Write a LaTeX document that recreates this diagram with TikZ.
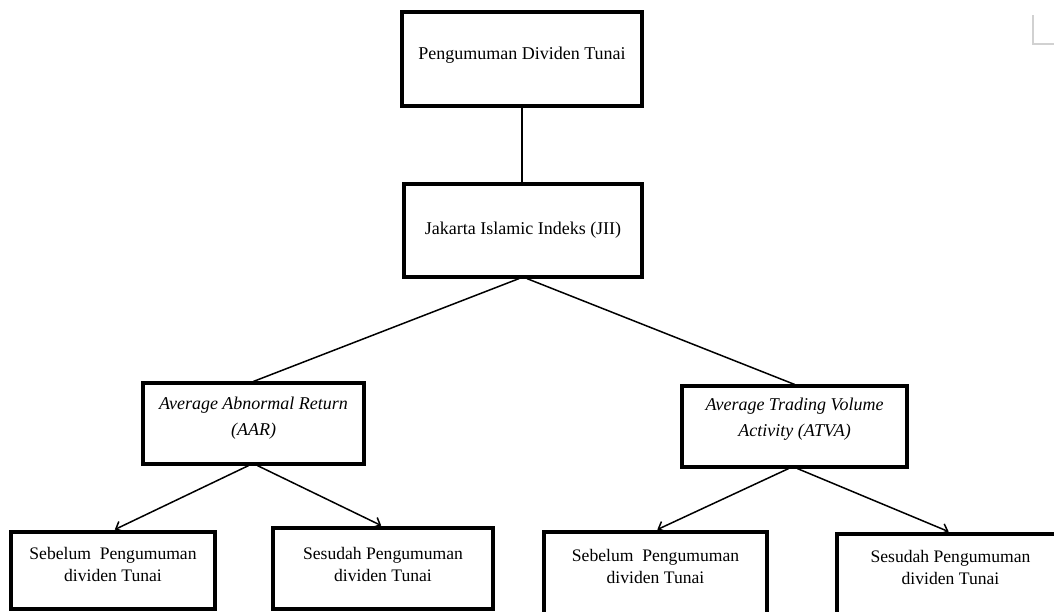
\documentclass[tikz,border=0pt]{standalone}
\usepackage{fontspec}
\setmainfont{Liberation Serif}
\usetikzlibrary{arrows.meta,calc}
\begin{document}
\begin{tikzpicture}[x=1pt,y=-1pt,
  box/.style={draw,line width=3.2pt,rectangle,inner sep=0pt},
  txt/.style={align=center,font=\fontsize{18}{26}\selectfont,inner sep=0pt},
  btxt/.style={align=center,font=\fontsize{17.6}{22}\selectfont,inner sep=0pt},
  link/.style={line width=1.5pt},
  arr/.style={line width=1.5pt,-{Straight Barb[length=6pt,width=11pt]},shorten >=2pt},
  cornermark/.style={draw=black!18,line width=1.5pt}]
\useasboundingbox (0,0) rectangle (1054,611);
\clip (0,0) rectangle (1054,611);
\fill[white] (0,0) rectangle (1054,611);

% boxes
\node[box,minimum width=240pt,minimum height=94pt] (top) at (522,59) {};
\node[box,minimum width=238pt,minimum height=93pt] (jii) at (523,230.5) {};
\node[box,minimum width=221pt,minimum height=81pt] (aar) at (253.5,423.5) {};
\node[box,minimum width=225pt,minimum height=81pt] (atva) at (794.5,426.5) {};
\node[box,minimum width=204pt,minimum height=77pt] (b1) at (113,570.5) {};
\node[box,minimum width=220pt,minimum height=81pt] (b2) at (383,568.5) {};
\node[box,minimum width=223pt,minimum height=90pt] (b3) at (655.5,577) {};
\node[box,minimum width=227pt,minimum height=90pt] (b4) at (950.5,579) {};

% texts
\node[txt] (ttop) at (522,55) {Pengumuman Dividen Tunai};
\node[txt] (tjii) at (523,230) {Jakarta Islamic Indeks (JII)};
\node[txt] (taar) at (253.5,418.5) {\itshape Average Abnormal Return\\\itshape (AAR)};
\node[txt] (tatva) at (794.5,419.5) {\itshape Average Trading Volume\\\itshape Activity (ATVA)};
\node[btxt] (tb1) at (113,564) {Sebelum\ \ Pengumuman\\dividen Tunai};
\node[btxt] (tb2) at (383,564) {Sesudah Pengumuman\\dividen Tunai};
\node[btxt] (tb3) at (655.5,566) {Sebelum\ \ Pengumuman\\dividen Tunai};
\node[btxt] (tb4) at (950.5,567.5) {Sesudah Pengumuman\\dividen Tunai};

% connectors
\draw[link] (top.south) -- (top.south |- jii.north);
\draw[link] ([xshift=-4pt]jii.south) -- (aar.north);
\draw[link] ([xshift=4pt]jii.south) -- (atva.north);
\draw[arr] ([xshift=-5pt]aar.south) -- (b1.north);
\draw[arr] ([xshift=4pt]aar.south) -- (b2.north);
\draw[arr] ([xshift=-6pt]atva.south) -- (b3.north);
\draw[arr] ([xshift=3pt]atva.south) -- (b4.north);

% page corner mark
\coordinate (m1) at (1033,15);
\coordinate (m2) at (1033,44);
\coordinate (m3) at (1054,44);
\draw[cornermark] (m1) -- (m2) -- (m3);
\end{tikzpicture}
\end{document}
